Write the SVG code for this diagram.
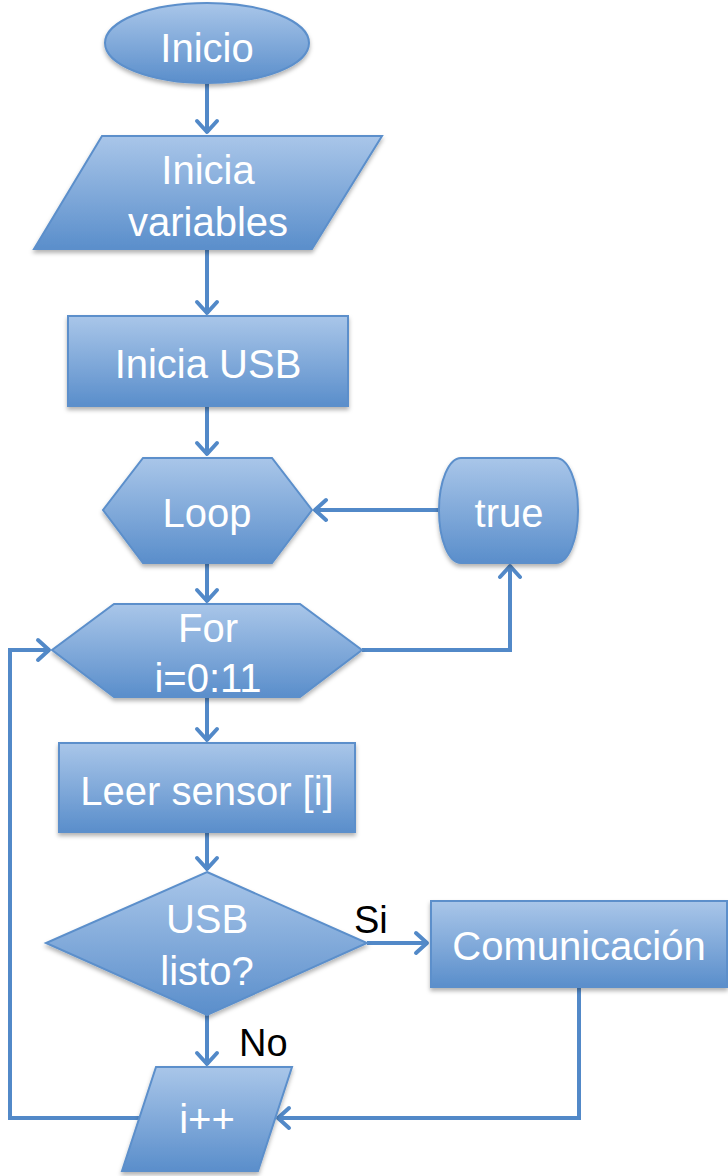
<svg xmlns="http://www.w3.org/2000/svg" width="728" height="1176" viewBox="0 0 728 1176">
<defs>
<linearGradient id="g" x1="0" y1="0" x2="0" y2="1">
<stop offset="0" stop-color="#A9C6E9"/>
<stop offset="1" stop-color="#5A8ECB"/>
</linearGradient>
<filter id="sh" x="-10%" y="-10%" width="120%" height="130%">
<feDropShadow dx="0" dy="3" stdDeviation="2" flood-color="#000" flood-opacity="0.3"/>
</filter>
<marker id="ah" viewBox="-16 -14 20 28" markerWidth="20" markerHeight="28" refX="0" refY="0" orient="auto" markerUnits="userSpaceOnUse">
<path d="M-12,-10 L-1,0 L-12,10" fill="none" stroke="#5289C8" stroke-width="4" stroke-linecap="round" stroke-linejoin="round"/>
</marker>
<style>
.n{fill:url(#g);stroke:#5B8FCB;stroke-width:2;filter:url(#sh)}
.t{font-family:"Liberation Sans",Arial,sans-serif;font-size:40px;fill:#fff;text-anchor:middle}
.l{font-family:"Liberation Sans",Arial,sans-serif;font-size:38px;fill:#000}
.c{fill:none;stroke:#5289C8;stroke-width:4;stroke-linejoin:miter}
.a{marker-end:url(#ah)}
</style>
</defs>
<g id="connectors">
<path class="c a" d="M207,83 V133"/>
<path class="c a" d="M207,249 V314"/>
<path class="c a" d="M207,406 V455"/>
<path class="c a" d="M439,510 H314"/>
<path class="c a" d="M207,563 V602"/>
<path class="c a" d="M362,650 H510 V565"/>
<path class="c a" d="M207,697 V741"/>
<path class="c a" d="M207,832 V870"/>
<path class="c a" d="M367,943 H428"/>
<path class="c a" d="M207,1015 V1065"/>
<path class="c a" d="M579,987 V1118 H277"/>
<path class="c a" d="M139,1118 H10 V650 H50"/>
</g>
<g id="inicio">
<ellipse class="n" cx="207" cy="43" rx="102" ry="40"/>
<text class="t" x="207" y="62">Inicio</text>
</g>
<g id="inicia-variables">
<polygon class="n" points="102,136 382,136 312,249 34,249"/>
<text class="t" x="208" y="184">Inicia</text>
<text class="t" x="208" y="236">variables</text>
</g>
<g id="inicia-usb">
<rect class="n" x="68" y="316" width="280" height="90"/>
<text class="t" x="208" y="378">Inicia USB</text>
</g>
<g id="loop">
<polygon class="n" points="143,458 272,458 312,510 272,563 143,563 103,510"/>
<text class="t" x="207" y="527">Loop</text>
</g>
<g id="true">
<rect class="n" x="439" y="458" width="139" height="105" rx="22" ry="52"/>
<text class="t" x="509" y="527">true</text>
</g>
<g id="for">
<polygon class="n" points="114,604 300,604 362,650 300,697 114,697 52,650"/>
<text class="t" x="208" y="642">For</text>
<text class="t" x="208" y="692">i=0:11</text>
</g>
<g id="leer-sensor">
<rect class="n" x="59" y="743" width="296" height="89"/>
<text class="t" x="207" y="805">Leer sensor [i]</text>
</g>
<g id="usb-listo">
<polygon class="n" points="207,872 367,943 207,1015 46,943"/>
<text class="t" x="207" y="933">USB</text>
<text class="t" x="207" y="985">listo?</text>
<text class="l" x="354" y="933">Si</text>
<text class="l" x="239" y="1056">No</text>
</g>
<g id="comunicacion">
<rect class="n" x="431" y="901" width="296" height="86"/>
<text class="t" x="579" y="960">Comunicación</text>
</g>
<g id="i-inc">
<polygon class="n" points="156,1067 292,1067 258,1171 122,1171"/>
<text class="t" x="207" y="1133">i++</text>
</g>
</svg>
